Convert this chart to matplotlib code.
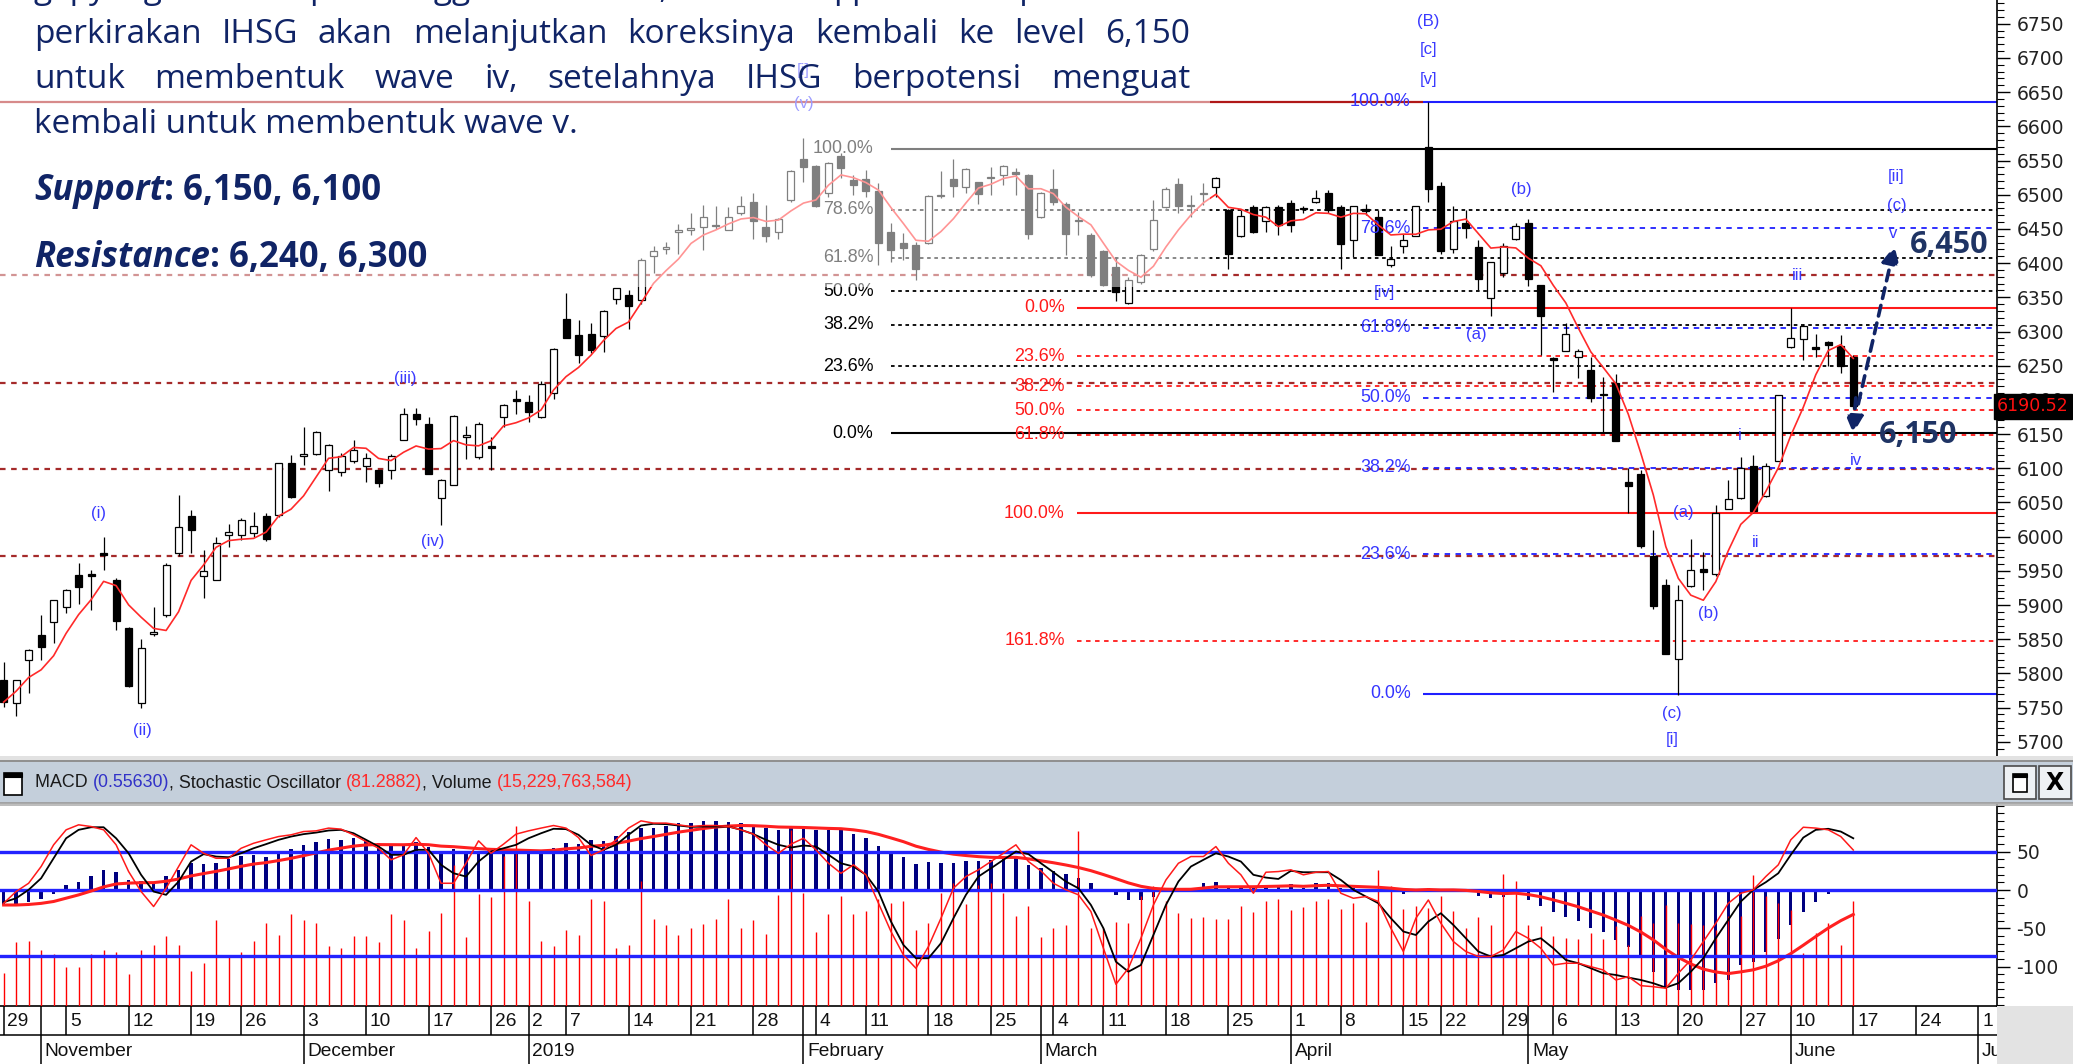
import numpy as np
import pandas as pd
import matplotlib
matplotlib.use("Agg")
import matplotlib.pyplot as plt
from matplotlib import font_manager
from matplotlib.patches import Rectangle

plt.rcParams["axes.unicode_minus"] = False

# ==== IHSG daily candles, 29 Oct 2018 - 17 Jun 2019 ====
opens = [5790, 5756, 5819, 5856, 5875, 5897, 5944, 5945, 5976, 5937,
         5867, 5756, 5858, 5885, 5976, 6030, 5943, 5937, 6002, 6002,
         6005, 6030, 6032, 6107, 6118, 6121, 6098, 6095, 6110, 6104,
         6097, 6098, 6142, 6180, 6165, 6056, 6076, 6146, 6117, 6132,
         6175, 6201, 6197, 6175, 6210, 6319, 6295, 6297, 6293, 6348,
         6353, 6346, 6410, 6420, 6445, 6448, 6453, 6456, 6448, 6473,
         6490, 6453, 6446, 6492, 6553, 6542, 6503, 6557, 6521, 6523,
         6505, 6446, 6430, 6426, 6429, 6498, 6523, 6512, 6518, 6524,
         6529, 6533, 6529, 6467, 6509, 6487, 6463, 6441, 6417, 6395,
         6342, 6373, 6420, 6482, 6516, 6483, 6503, 6512, 6477, 6439,
         6482, 6461, 6482, 6488, 6481, 6490, 6502, 6482, 6434, 6479,
         6468, 6397, 6425, 6440, 6570, 6513, 6420, 6458, 6423, 6349,
         6386, 6435, 6458, 6368, 6261, 6271, 6262, 6243, 6209, 6225,
         6080, 6092, 5972, 5930, 5821, 5928, 5953, 5945, 6041, 6057,
         6103, 6060, 6111, 6277, 6289, 6277, 6285, 6279, 6263]
highs = [5817, 5790, 5836, 5885, 5908, 5924, 5961, 5951, 6000, 5939,
         5868, 5851, 5897, 5961, 6061, 6039, 5980, 6000, 6019, 6027,
         6036, 6034, 6108, 6119, 6161, 6155, 6135, 6122, 6142, 6123,
         6098, 6121, 6188, 6188, 6175, 6084, 6178, 6162, 6168, 6146,
         6194, 6215, 6207, 6227, 6276, 6356, 6317, 6313, 6331, 6364,
         6361, 6408, 6425, 6431, 6457, 6473, 6485, 6484, 6482, 6498,
         6502, 6485, 6466, 6536, 6583, 6544, 6548, 6561, 6529, 6536,
         6517, 6458, 6444, 6431, 6500, 6534, 6553, 6539, 6519, 6541,
         6544, 6539, 6531, 6504, 6537, 6490, 6475, 6444, 6419, 6409,
         6380, 6414, 6492, 6512, 6524, 6500, 6517, 6526, 6479, 6478,
         6485, 6484, 6485, 6493, 6483, 6507, 6507, 6485, 6484, 6486,
         6477, 6425, 6443, 6484, 6636, 6519, 6484, 6477, 6434, 6402,
         6429, 6458, 6465, 6368, 6262, 6312, 6274, 6262, 6234, 6238,
         6101, 6098, 6009, 5938, 5929, 5997, 5978, 6046, 6083, 6117,
         6120, 6108, 6207, 6335, 6311, 6297, 6286, 6295, 6265]
lows = [5751, 5737, 5771, 5819, 5844, 5888, 5902, 5893, 5951, 5863,
        5780, 5750, 5855, 5883, 5971, 5976, 5910, 5937, 5985, 5995,
        6000, 5993, 6029, 6057, 6105, 6120, 6067, 6089, 6107, 6080,
        6072, 6085, 6141, 6163, 6092, 6017, 6076, 6113, 6113, 6097,
        6161, 6180, 6167, 6174, 6202, 6290, 6254, 6268, 6270, 6340,
        6303, 6340, 6385, 6413, 6414, 6441, 6419, 6450, 6448, 6470,
        6436, 6431, 6436, 6490, 6519, 6482, 6497, 6524, 6500, 6497,
        6397, 6402, 6405, 6376, 6428, 6495, 6497, 6502, 6487, 6500,
        6514, 6500, 6436, 6466, 6485, 6412, 6441, 6380, 6366, 6344,
        6340, 6370, 6418, 6480, 6473, 6468, 6485, 6497, 6392, 6438,
        6444, 6446, 6441, 6446, 6474, 6488, 6474, 6392, 6409, 6471,
        6412, 6394, 6415, 6439, 6489, 6414, 6415, 6437, 6360, 6323,
        6380, 6434, 6366, 6265, 6211, 6271, 6232, 6197, 6151, 6140,
        6035, 5983, 5894, 5829, 5768, 5927, 5922, 5943, 6040, 6055,
        6035, 6058, 6110, 6276, 6258, 6262, 6249, 6240, 6187]
closes = [5758, 5790, 5834, 5839, 5908, 5922, 5927, 5943, 5973, 5877,
          5781, 5837, 5861, 5958, 6014, 6010, 5950, 5990, 6007, 6024,
          6016, 5996, 6107, 6058, 6121, 6153, 6134, 6118, 6126, 6115,
          6079, 6118, 6179, 6172, 6092, 6083, 6176, 6148, 6165, 6129,
          6192, 6199, 6183, 6223, 6275, 6290, 6266, 6273, 6330, 6363,
          6337, 6405, 6417, 6423, 6448, 6451, 6467, 6454, 6467, 6484,
          6461, 6439, 6464, 6534, 6541, 6484, 6547, 6539, 6514, 6505,
          6429, 6419, 6422, 6392, 6498, 6500, 6513, 6537, 6501, 6526,
          6542, 6531, 6443, 6502, 6490, 6443, 6462, 6383, 6368, 6358,
          6376, 6412, 6463, 6509, 6483, 6485, 6501, 6525, 6414, 6469,
          6446, 6482, 6456, 6456, 6479, 6495, 6478, 6428, 6484, 6476,
          6412, 6406, 6434, 6483, 6508, 6417, 6462, 6452, 6377, 6402,
          6425, 6455, 6377, 6322, 6258, 6297, 6271, 6203, 6207, 6140,
          6074, 5986, 5898, 5829, 5908, 5951, 5949, 6034, 6055, 6101,
          6037, 6103, 6207, 6291, 6308, 6275, 6280, 6250, 6190.52]

# MACD (blue histogram), stochastic %K (red) / %D (black), volume (billion shares)
macd = [-19.6, -19.6, -16.1, -11.7, -5.2, 6.6, 10.9, 18.8, 25.7, 23.1,
        13.5, 11.8, 10.0, 18.8, 25.7, 34.9, 33.6, 35.8, 40.5, 44.5,
        45.8, 43.2, 49.3, 53.2, 58.8, 63.2, 66.3, 65.4, 67.6, 65.4,
        61.0, 58.8, 58.8, 62.3, 56.7, 50.1, 53.6, 50.1, 49.3, 49.3,
        51.0, 50.1, 49.3, 49.3, 55.4, 61.0, 59.7, 65.4, 64.1, 71.0,
        75.4, 80.6, 80.6, 84.1, 87.2, 87.2, 90.2, 90.2, 88.5, 87.2,
        82.8, 80.6, 78.4, 80.6, 80.6, 78.4, 78.4, 78.4, 72.8, 67.6,
        58.0, 49.3, 43.6, 33.6, 36.2, 35.8, 35.8, 37.9, 37.9, 39.2,
        41.4, 43.6, 32.7, 28.3, 25.3, 20.9, 16.1, 8.7, 0.0, -6.5,
        -13.0, -13.0, -8.7, -3.0, 0.0, 1.3, 8.7, 10.9, 4.4, 4.4,
        4.4, 5.7, 6.6, 7.4, 2.2, 8.7, 8.7, 2.2, 2.2, 1.3,
        1.3, -2.2, -5.6, -3.0, 3.1, -2.2, 0.4, -3.0, -7.4, -10.9,
        -8.7, -2.2, -13.0, -20.5, -29.2, -34.8, -40.5, -49.2, -54.4, -65.3,
        -74.0, -89.3, -106.7, -126.3, -130.7, -130.7, -130.7, -122.0, -117.6, -98.0,
        -93.7, -80.6, -64.0, -45.7, -28.3, -15.2, -5.6, -1.5, 0.5563]
stoch_k = [50.4, 57.2, 62.0, 71.7, 84.3, 93.0, 95.9, 94.9, 93.0, 84.3,
           68.8, 57.2, 48.5, 59.1, 71.7, 84.3, 79.4, 76.5, 76.5, 82.3,
           85.2, 87.2, 89.1, 90.1, 92.0, 92.4, 94.0, 93.4, 90.1, 86.2,
           82.3, 75.6, 78.5, 88.5, 79.4, 62.0, 62.0, 73.6, 86.6, 79.4,
           84.7, 90.5, 92.4, 94.0, 95.5, 94.0, 88.5, 78.1, 81.4, 87.2,
           94.0, 98.2, 96.9, 96.9, 95.9, 94.9, 95.5, 95.5, 94.9, 93.0,
           90.5, 84.3, 79.4, 84.7, 88.1, 81.4, 73.6, 67.8, 72.7, 66.9,
           50.4, 34.0, 20.4, 12.7, 25.3, 41.7, 59.1, 65.9, 69.8, 74.6,
           79.4, 84.3, 74.6, 69.2, 62.0, 58.2, 55.3, 45.6, 24.3, 3.4,
           12.7, 30.1, 49.4, 63.9, 73.6, 77.5, 77.5, 83.3, 73.6, 66.9,
           56.2, 68.4, 68.8, 69.8, 66.9, 68.4, 68.8, 56.2, 53.3, 54.3,
           51.4, 35.9, 22.4, 41.7, 52.3, 38.8, 28.2, 22.4, 19.5, 19.5,
           23.3, 34.0, 30.1, 24.3, 14.6, 15.6, 15.6, 13.6, 11.7, 5.9,
           7.8, 2.6, 2.0, 1.1, 9.8, 17.5, 28.2, 38.8, 50.4, 56.2,
           58.2, 65.9, 72.7, 87.2, 94.5, 94.0, 93.0, 89.1, 81.2882]
stoch_d = [51.0, 53.3, 58.2, 64.9, 76.5, 88.1, 93.0, 94.5, 94.5, 88.1,
           79.4, 66.9, 57.2, 55.3, 63.0, 74.6, 78.9, 77.5, 77.1, 79.4,
           82.3, 84.7, 87.2, 89.1, 90.5, 91.4, 92.6, 93.0, 91.0, 87.2,
           83.3, 78.5, 78.5, 81.4, 81.4, 72.7, 67.8, 65.9, 74.6, 80.4,
           82.3, 84.3, 88.1, 91.0, 93.6, 93.4, 90.1, 84.3, 81.4, 84.3,
           90.1, 95.5, 96.5, 96.3, 95.5, 94.7, 94.9, 94.9, 94.9, 93.0,
           90.5, 87.2, 84.3, 82.7, 83.9, 83.3, 78.5, 73.6, 71.7, 66.9,
           57.2, 39.8, 26.2, 18.5, 18.5, 27.2, 41.7, 55.3, 65.9, 70.7,
           75.6, 80.4, 78.9, 73.6, 68.4, 63.0, 59.1, 49.4, 35.9, 16.5,
           10.7, 14.6, 32.0, 49.4, 63.0, 71.7, 75.6, 79.4, 77.5, 74.6,
           66.9, 65.3, 64.5, 69.2, 68.4, 68.4, 68.4, 63.9, 58.2, 54.3,
           50.4, 41.7, 34.0, 32.0, 39.8, 44.6, 37.8, 30.1, 22.4, 19.5,
           20.4, 24.3, 28.2, 30.1, 24.3, 17.5, 15.6, 12.7, 9.8, 8.8,
           7.3, 5.9, 4.0, 1.5, 4.0, 10.7, 18.5, 30.1, 40.7, 51.4,
           58.2, 62.6, 67.8, 78.5, 88.5, 93.0, 93.6, 92.0, 88.1]
volume = [4.8, 9.3, 9.5, 8.1, 7.6, 5.7, 5.7, 7.6, 8.1, 7.9,
          4.6, 8.1, 8.9, 10.1, 8.9, 5.1, 6.2, 12.5, 7.3, 7.9,
          9.5, 12.0, 10.3, 13.3, 12.5, 12.0, 8.7, 8.4, 10.1, 10.1,
          9.3, 13.3, 12.5, 8.4, 10.9, 13.5, 20.5, 10.0, 16.3, 15.8,
          21.8, 26.2, 15.2, 9.5, 8.7, 11.1, 10.3, 15.5, 15.2, 8.4,
          8.9, 18.1, 12.7, 11.7, 10.3, 11.4, 11.9, 12.7, 15.5, 11.4,
          12.5, 10.5, 16.1, 25.6, 16.4, 10.8, 13.3, 16.0, 13.3, 13.8,
          15.5, 14.9, 15.2, 11.1, 12.1, 16.4, 17.9, 14.8, 17.6, 17.9,
          16.4, 13.1, 14.6, 10.0, 11.4, 11.7, 25.4, 11.4, 11.4, 12.2,
          12.1, 16.0, 17.4, 15.2, 13.5, 12.8, 13.0, 12.7, 12.7, 14.6,
          13.6, 15.2, 15.5, 14.0, 14.4, 15.2, 15.5, 14.1, 15.0, 12.2,
          19.8, 17.4, 14.1, 14.6, 14.3, 16.0, 13.8, 11.4, 13.0, 11.7,
          19.2, 18.1, 11.8, 11.6, 10.1, 9.9, 9.7, 10.6, 9.7, 11.6,
          8.9, 13.1, 12.1, 14.7, 12.1, 11.9, 11.8, 11.1, 13.1, 13.1,
          19.0, 16.0, 14.9, 14.0, 7.7, 10.6, 12.1, 8.9, 15.23]

# IDX holidays inside the window (x axis is trading days only)
holidays = ["2018-11-20", "2018-12-24", "2018-12-25", "2018-12-31", "2019-01-01",
            "2019-02-05", "2019-03-07", "2019-04-03", "2019-04-17", "2019-04-19",
            "2019-05-01", "2019-05-30", "2019-06-03", "2019-06-04", "2019-06-05",
            "2019-06-06", "2019-06-07"]

# fibonacci tools: (0% level, 100% level), ratios
fib_black = (6151, 6567)
fib_red = (6335, 6034)
fib_blue = (5770, 6636)
ratios_std = [0.0, 0.236, 0.382, 0.5, 0.618, 0.786, 1.0]
ratios_red = [0.0, 0.236, 0.382, 0.5, 0.618, 1.0, 1.618]
sr_dotted = [6382, 6225, 6099, 5972]
sr_solid = 6636

# elliott wave labels (text, trading-day index, price)
wave_labels = [("(i)", 7.6, 6034), ("(ii)", 11.1, 5717), ("(iii)", 32.1, 6231),
               ("(iv)", 34.3, 5993), ("[i]", 64.0, 6682), ("(v)", 64.0, 6634),
               ("(B)", 114.0, 6753), ("[c]", 114.0, 6712), ("[v]", 114.0, 6669),
               ("[iv]", 110.5, 6357), ("(a)", 117.8, 6295), ("(b)", 121.4, 6507),
               ("(a)", 134.4, 6035), ("(b)", 136.4, 5887), ("(c)", 133.5, 5742),
               ("[i]", 133.5, 5704), ("i", 138.9, 6148), ("ii", 140.2, 5992),
               ("iii", 143.5, 6382), ("iv", 148.2, 6112), ("[ii]", 151.4, 6526),
               ("(c)", 151.5, 6484), ("v", 151.2, 6443)]


def font_ok(name):
    try:
        font_manager.findfont(font_manager.FontProperties(family=name), fallback_to_default=False)
        return True
    except Exception:
        return False


narrow = font_ok("Liberation Sans Narrow")
LAB = "Liberation Sans Narrow" if narrow else "Liberation Sans"
K = 1.0 if narrow else 0.86
BODY = "Open Sans" if font_ok("Open Sans") else "DejaVu Sans"

NAVY = "#102466"
WAVE = "#3a3aff"

W, H = 2073, 1064
fig = plt.figure(figsize=(W / 100, H / 100), dpi=100)
fig.patch.set_facecolor("white")


def fbox(x0, y0, x1, y1):
    # pixel box (from top-left) -> figure fraction
    return [x0 / W, 1 - y1 / H, (x1 - x0) / W, (y1 - y0) / H]


X0, X1 = -0.29, 159.5
o = np.array(opens, float)
hi = np.array(highs, float)
lo = np.array(lows, float)
c = np.array(closes, float)
idx = np.arange(len(c))

# ======== price panel ========
ax = fig.add_axes(fbox(0, 0, 1997, 756))
ax.set_xlim(X0, X1)
ax.set_ylim(5679.2, 6784.8)

# support / resistance lines
ax.hlines(sr_dotted, X0, X1, colors="#a52a2a", linestyles=(0, (2.5, 2.5)), lw=1.6, zorder=1)
ax.hlines(sr_solid, X0, 113.6, colors="#b01818", lw=1.6, zorder=1)

fib_tools = [(fib_black, ratios_std, 71.0, 69.6, "black", "black", (0, (2, 2))),
             (fib_red, ratios_red, 85.9, 84.9, "#ff1a1a", "#ff1a1a", (0, (2.5, 2.5))),
             (fib_blue, ratios_std, 113.6, 112.6, "#1f1fff", "#3535ff", (0, (3, 3)))]
for (p0, p1), rats, xs, xl, col, tcol, dash in fib_tools:
    for r in rats:
        lvl = p0 + r * (p1 - p0)
        ls = "-" if r in (0.0, 1.0) else dash
        ax.hlines(lvl, xs, X1, colors=col, linestyles=ls, lw=1.5 if ls == "-" else 1.3, zorder=1)
        ax.text(xl, lvl, f"{r * 100:.1f}%", color=tcol, ha="right", va="center",
                family=LAB, fontsize=15 * K, zorder=5)

# candles
ax.vlines(idx, lo, hi, color="black", lw=0.9, zorder=3)
ax.bar(idx, np.maximum(np.abs(c - o), 0.8), bottom=np.minimum(o, c), width=0.56,
       color=np.where(c >= o, "white", "black"), edgecolor="black", linewidth=0.9, zorder=4)
ma5 = pd.Series(c).rolling(5, min_periods=1).mean()
ax.plot(idx, ma5, color="#ff2a2a", lw=1.2, zorder=5)

for s, xi, yp in wave_labels:
    ax.text(xi, yp, s, color=WAVE, ha="center", va="center", family=LAB, fontsize=14 * K, zorder=6)

# forecast arrows
ax.annotate("", xy=(148.0, 6151), xytext=(148.2, 6203),
            arrowprops=dict(arrowstyle="-|>", color=NAVY, lw=2.6, linestyle=(0, (3, 2)),
                            mutation_scale=26, shrinkA=0, shrinkB=0), zorder=7)
ax.annotate("", xy=(151.3, 6425), xytext=(148.4, 6194),
            arrowprops=dict(arrowstyle="-|>", color=NAVY, lw=2.6, linestyle=(0, (3, 2)),
                            mutation_scale=26, shrinkA=0, shrinkB=0), zorder=7)
ax.text(155.7, 6426, "6,450", color="#1f3464", fontsize=22, fontweight="bold",
        family=BODY, ha="center", va="center", zorder=8)
ax.text(153.2, 6148, "6,150", color="#1f3464", fontsize=22, fontweight="bold",
        family=BODY, ha="center", va="center", zorder=8)

# translucent box behind the commentary
ax.add_patch(Rectangle((X0, 6365), 96.5 - X0, 6784.8 - 6365, facecolor="white",
                       alpha=0.5, lw=0, zorder=20))

for s in ("top", "left", "bottom"):
    ax.spines[s].set_visible(False)
ax.spines["right"].set_linewidth(1.2)
ax.set_xticks([])
ax.yaxis.tick_right()
ax.set_yticks(np.arange(5700, 6751, 50))
ax.set_yticks(np.arange(5690, 6781, 10), minor=True)
ax.tick_params(axis="y", which="major", length=9, width=1, pad=5, labelsize=13.5, labelcolor="#222222")
ax.tick_params(axis="y", which="minor", length=5, width=0.8)
ax.text(1.0, closes[-1], "6190.52", transform=ax.get_yaxis_transform(), ha="left", va="center",
        color="#ff1010", fontsize=12.5, clip_on=False, zorder=30,
        bbox=dict(facecolor="black", edgecolor="black", pad=2.5))

# ======== indicator panel ========
ax_ind = fig.add_axes(fbox(0, 805, 1997, 1006))
ax_vol = ax_ind.twinx()
ax_sig = ax_ind.twinx()
ax_st = ax_ind.twinx()
for a in (ax_ind, ax_vol, ax_sig, ax_st):
    a.set_xlim(X0, X1)
ax_ind.set_ylim(-151.6, 111.1)
ax_sig.set_ylim(-151.6, 111.1)
ax_vol.set_ylim(0, 29.2)
ax_st.set_ylim(-9.2, 107.4)

ax_ind.bar(idx, macd, width=0.26, color="#000080", zorder=2)
ax_vol.vlines(idx, 0, volume, color="#ff0000", lw=1.0)
signal = pd.Series(macd).ewm(span=9, adjust=False).mean()
ax_sig.axhline(0, color="#2323ff", lw=2.4)
ax_sig.plot(idx, signal, color="#ff2020", lw=2.2)
ax_st.axhline(80, color="#2323ff", lw=2.4)
ax_st.axhline(20, color="#2323ff", lw=2.4)
ax_st.plot(idx, stoch_d, color="black", lw=1.3)
ax_st.plot(idx, stoch_k, color="#ff1a1a", lw=1.1)
for a in (ax_vol, ax_sig, ax_st):
    a.axis("off")

for s in ("top", "left"):
    ax_ind.spines[s].set_visible(False)
ax_ind.spines["right"].set_linewidth(1.2)
ax_ind.spines["bottom"].set_linewidth(1.2)
ax_ind.set_xticks([])
ax_ind.yaxis.tick_right()
ax_ind.set_yticks([-100, -50, 0, 50])
ax_ind.set_yticks(np.arange(-150, 111, 10), minor=True)
ax_ind.tick_params(axis="y", which="major", length=9, width=1, pad=5, labelsize=13.5, labelcolor="#222222")
ax_ind.tick_params(axis="y", which="minor", length=5, width=0.8)

# ======== date axis ========
days = pd.bdate_range("2018-10-29", "2019-07-05")
days = days[~days.isin(pd.to_datetime(holidays))]
wk = days.to_period("W")
mo = days.to_period("M")
week_pos = [i for i in range(len(days)) if i == 0 or wk[i] != wk[i - 1]]
month_pos = [i for i in range(1, len(days)) if mo[i] != mo[i - 1]]

ax_d = fig.add_axes(fbox(0, 1006, 1997, 1064))
ax_d.set_xlim(X0, X1)
ax_d.set_ylim(0, 58)
ax_d.axis("off")
ax_d.axhline(29, color="black", lw=1.1)
for i in sorted(set(week_pos) | set(month_pos)):
    ax_d.vlines(i, 29, 58, color="black", lw=1.1)
for i in week_pos:
    ax_d.text(i + 0.3, 43, str(days[i].day), family=LAB, fontsize=16 * K, color="#111111",
              ha="left", va="center", clip_on=True)
for i in month_pos:
    ax_d.vlines(i, 0, 29, color="black", lw=1.1)
    name = str(days[i].year) if days[i].month == 1 else days[i].strftime("%B")
    ax_d.text(i + 0.3, 13, name, family=LAB, fontsize=16 * K, color="#111111",
              ha="left", va="center", clip_on=True)

# ======== window chrome ========
fig.add_artist(Rectangle((0, 1 - 762 / H), 1, 6 / H, transform=fig.transFigure,
                         facecolor="#e2e2e2", edgecolor="none"))
fig.add_artist(Rectangle((0, 1 - 803 / H), 1, 41 / H, transform=fig.transFigure,
                         facecolor="#c4cfdb", edgecolor="none"))
for yy, col in ((761, "#808080"), (803, "#9a9a9a"), (805, "#b0b0b0")):
    fig.add_artist(plt.Line2D([0, 1], [1 - yy / H] * 2, transform=fig.transFigure, color=col, lw=1.2))
fig.add_artist(Rectangle((1997 / W, 0), 76 / W, 58 / H, transform=fig.transFigure,
                         facecolor="#e3e3e3", edgecolor="none"))
# panel icon and the two buttons
fig.add_artist(Rectangle((4 / W, 1 - 795 / H), 18 / W, 22 / H, transform=fig.transFigure,
                         facecolor="white", edgecolor="black", lw=1.2))
fig.add_artist(Rectangle((4 / W, 1 - 777 / H), 18 / W, 4 / H, transform=fig.transFigure,
                         facecolor="black", edgecolor="black", lw=0.8))
for bx in (2004, 2039):
    fig.add_artist(Rectangle((bx / W, 1 - 799 / H), 32 / W, 33 / H, transform=fig.transFigure,
                             facecolor="#eef1f4", edgecolor="#4a4a4a", lw=1.2))
fig.add_artist(Rectangle((2013 / W, 1 - 792 / H), 14 / W, 18 / H, transform=fig.transFigure,
                         facecolor="white", edgecolor="black", lw=1.2))
fig.add_artist(Rectangle((2013 / W, 1 - 777 / H), 14 / W, 3 / H, transform=fig.transFigure,
                         facecolor="black", edgecolor="black", lw=0.8))
fig.text(2055 / W, 1 - 783 / H, "X", family="DejaVu Sans", fontsize=17, fontweight="bold",
         ha="center", va="center", color="black")

# ======== texts laid out with measured widths ========
fig.canvas.draw()
rend = fig.canvas.get_renderer()


def text_w(t):
    return t.get_window_extent(renderer=rend).width


def run(pieces, x_px, y_px, **kw):
    # consecutive text pieces with their own colour / weight
    for s, extra in pieces:
        props = {**kw, **extra}
        fig.text(x_px / W, 1 - y_px / H, s, va="baseline", **props)
        probe = fig.text(0, 0, s + "|", **props)
        bar = fig.text(0, 0, "|", **props)
        x_px += text_w(probe) - text_w(bar)
        probe.remove()
        bar.remove()


def justify(line, y_px, x0, x1, **kw):
    words = line.split()
    items = [fig.text(0, 1 - y_px / H, w, va="baseline", **kw) for w in words]
    widths = [text_w(t) for t in items]
    gap = (x1 - x0 - sum(widths)) / (len(words) - 1)
    x = x0
    for t, w in zip(items, widths):
        t.set_x(x / W)
        x += w + gap


dark = "#1a1a1a"
run([("MACD ", {"color": dark}), ("(0.55630)", {"color": "#3232c8"}),
     (", Stochastic Oscillator ", {"color": dark}), ("(81.2882)", {"color": "#ff2a2a"}),
     (", Volume ", {"color": dark}), ("(15,229,763,584)", {"color": "#ff2a2a"})],
    35, 787, family=LAB, fontsize=15 * K)

body = dict(family=BODY, fontsize=24, color=NAVY)
justify("gap yang terbentuk pada tanggal 17 Mei 2019, namun tetap perlu diwaspadai. Kami",
        -1.7, 34, 1190, **body)
justify("perkirakan IHSG akan melanjutkan koreksinya kembali ke level 6,150", 43.3, 34, 1190, **body)
justify("untuk membentuk wave iv, setelahnya IHSG berpotensi menguat", 88.3, 34, 1190, **body)
fig.text(34 / W, 1 - 133.3 / H, "kembali untuk membentuk wave v.", va="baseline", **body)
run([("Support", {"fontstyle": "italic"}), (": 6,150, 6,100", {})], 34, 200,
    family=BODY, fontsize=25, fontweight="bold", color=NAVY)
run([("Resistance", {"fontstyle": "italic"}), (": 6,240, 6,300", {})], 34, 266.7,
    family=BODY, fontsize=25, fontweight="bold", color=NAVY)

fig.savefig("out.png", dpi=100)
